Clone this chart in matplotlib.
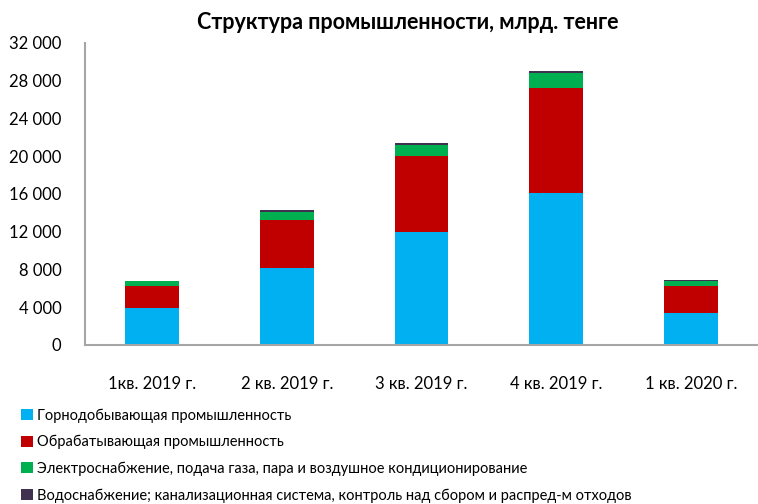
import matplotlib
matplotlib.use('Agg')
import numpy as np
import matplotlib.pyplot as plt
from matplotlib.ticker import FuncFormatter

plt.rcParams['font.family'] = ['Lato', 'Open Sans', 'DejaVu Sans']

quarters = ['1кв. 2019 г.', '2 кв. 2019 г.', '3 кв. 2019 г.', '4 кв. 2019 г.', '1 кв. 2020 г.']
mining = [3900, 8160, 11970, 16070, 3390]
manufacturing = [2350, 5110, 8080, 11190, 2890]
electricity = [530, 850, 1140, 1550, 500]
water = [50, 150, 180, 220, 100]

labels = ['Горнодобывающая промышленность',
          'Обрабатывающая промышленность',
          'Электроснабжение, подача газа, пара и воздушное кондиционирование',
          'Водоснабжение; канализационная система, контроль над сбором и распред-м отходов']
colors = ['#00b0f0', '#c00000', '#00b050', '#403151']

fig = plt.figure(figsize=(7.58, 5.04), dpi=100)
ax = fig.add_axes([85 / 758, 0.3155, 1 - 85 / 758, 0.5992])

x = np.arange(len(quarters))
bottom = np.zeros(len(quarters))
for vals, lab, col in zip([mining, manufacturing, electricity, water], labels, colors):
    ax.bar(x, vals, width=0.4, bottom=bottom, color=col, label=lab)
    bottom += np.array(vals)

ax.set_xlim(-0.5, 4.5)
ax.set_ylim(0, 32000)
ax.set_yticks(np.arange(0, 32001, 4000))
ax.yaxis.set_major_formatter(FuncFormatter(lambda v, p: '{:,}'.format(int(v)).replace(',', ' ')))
ax.set_xticks(x)
ax.set_xticklabels(quarters)
ax.tick_params(axis='both', length=0, labelsize=12, colors='black')
ax.tick_params(axis='x', pad=22)
ax.tick_params(axis='y', pad=17)
for s in ['top', 'right']:
    ax.spines[s].set_visible(False)
for s in ['left', 'bottom']:
    ax.spines[s].set_color('#a6a6a6')
    ax.spines[s].set_linewidth(1.5)

fig.text(408 / 758, 0.955, 'Структура промышленности, млрд. тенге', ha='center', va='center',
         fontsize=15.5, fontweight='bold')

fig.legend(loc='upper left', bbox_to_anchor=(0.028, 0.19), frameon=False, fontsize=10.5,
           handlelength=0.8, handleheight=0.8, handletextpad=0.3, labelspacing=0.85,
           borderaxespad=0, borderpad=0)

fig.savefig('out.png', dpi=100)
